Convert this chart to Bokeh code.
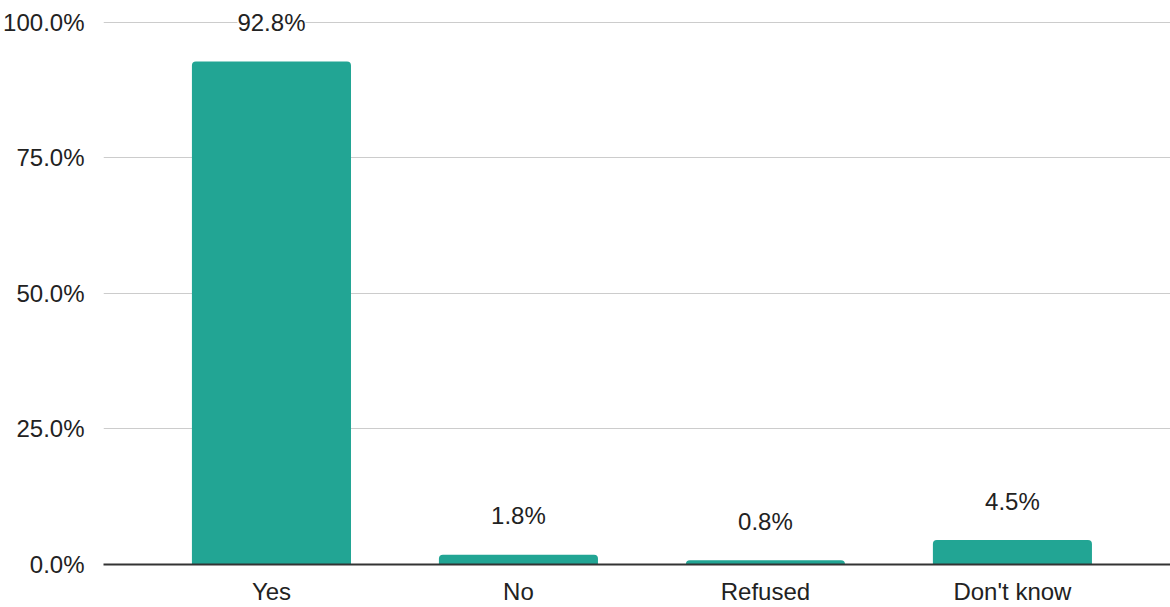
from bokeh.plotting import figure
from bokeh.models import ColumnDataSource, Range1d, FixedTicker, LabelSet, NumeralTickFormatter
from bokeh.core.properties import value
from bokeh.embed import file_html
from bokeh.resources import INLINE

categories = ["Yes", "No", "Refused", "Don't know"]
values = [0.928, 0.018, 0.008, 0.045]
value_labels = ["92.8%", "1.8%", "0.8%", "4.5%"]
y_ticks = [0.0, 0.25, 0.5, 0.75, 1.0]

xs = list(range(len(categories)))
src = ColumnDataSource(dict(x=xs, top=values, lab=value_labels, cat=categories))

FONT = "Liberation Sans"
p = figure(width=1170, height=607, output_backend="svg", toolbar_location=None,
           x_range=Range1d(-0.68, 3.64), y_range=Range1d(0, 1.0404),
           min_border_left=103, min_border_right=0, min_border_top=0, min_border_bottom=0)
p.outline_line_color = None
p.background_fill_color = "white"
p.border_fill_color = "white"

p.vbar(x="x", top="top", width=0.644, source=src, fill_color="#22a594", line_color=None,
       border_radius=(4, 4, 0, 0))

labels = LabelSet(x="x", y="top", text="lab", source=src, text_align="center",
                  text_baseline="middle", y_offset=39, text_font=value(FONT),
                  text_font_size=value("24px"),
                  text_color="#222222", background_fill_color="white")
p.add_layout(labels)

p.xgrid.grid_line_color = None
p.ygrid.grid_line_color = "#cccccc"
p.ygrid.grid_line_width = 1

p.yaxis.ticker = FixedTicker(ticks=y_ticks)
p.yaxis.formatter = NumeralTickFormatter(format="0.0%")
p.yaxis.axis_line_color = None
p.yaxis.major_tick_line_color = None
p.yaxis.minor_tick_line_color = None
p.yaxis.major_label_standoff = 13
p.yaxis.major_label_text_font = FONT
p.yaxis.major_label_text_font_size = "24px"
p.yaxis.major_label_text_color = "#222222"

p.xaxis.ticker = FixedTicker(ticks=xs)
p.xaxis.major_label_overrides = {i: c for i, c in zip(xs, categories)}
p.xaxis.axis_line_color = "#333333"
p.xaxis.axis_line_width = 2
p.xaxis.major_tick_line_color = None
p.xaxis.minor_tick_line_color = None
p.xaxis.major_label_standoff = 7
p.xaxis.major_label_text_font = FONT
p.xaxis.major_label_text_font_size = "24px"
p.xaxis.major_label_text_color = "#222222"

open("out.html", "w").write(file_html(p, INLINE))
